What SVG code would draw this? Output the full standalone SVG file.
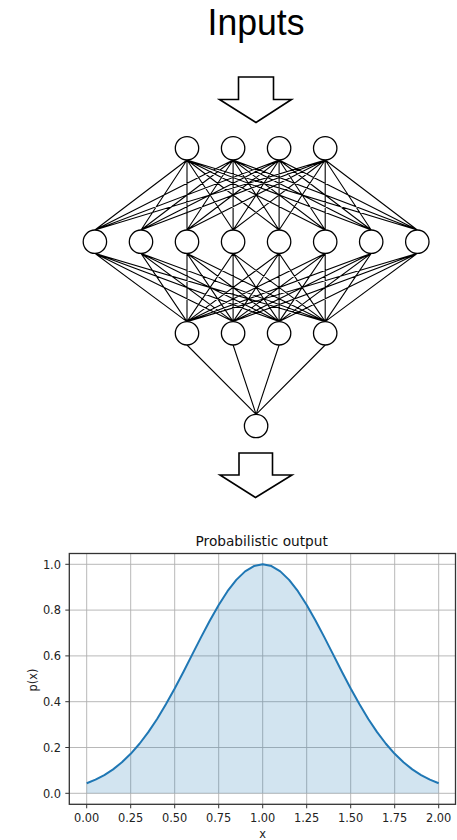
<svg xmlns="http://www.w3.org/2000/svg" width="457" height="840" viewBox="0 0 457 840">
<style>
.big{font-family:"Liberation Sans",Arial,sans-serif;font-size:37px;fill:#000}
.arrow{fill:#fff;stroke:#000;stroke-width:1.6;stroke-linejoin:miter}
.node{fill:#fff;stroke:#000;stroke-width:1.3}
.edge{fill:none;stroke:#000;stroke-width:1.1}
.grid{stroke:#b0b0b0;stroke-width:0.9}
.spine{fill:none;stroke:#333;stroke-width:1.3}
.tick{stroke:#333;stroke-width:1}
.tl{font-family:"DejaVu Sans",sans-serif;font-size:11.4px;fill:#222}
.title{font-family:"DejaVu Sans",sans-serif;font-size:13.7px;fill:#111}
</style>
<rect width="457" height="840" fill="#fff"/>
<text class="big" x="256" y="35" text-anchor="middle" textLength="97" lengthAdjust="spacingAndGlyphs">Inputs</text>
<polygon class="arrow" points="238.5,77 273.5,77 273.5,99.5 291.5,99.5 256,122.5 219.5,99.5 238.5,99.5"/>
<g id="connectors">
<path class="edge" d="M187 160L94.9 230M187 160L141 230M187 160L187 230M187 160L233.1 230M187 160L279.1 230M187 160L325.2 230M187 160L371.2 230M187 160L417.3 230
M233.1 160L94.9 230M233.1 160L141 230M233.1 160L187 230M233.1 160L233.1 230M233.1 160L279.1 230M233.1 160L325.2 230M233.1 160L371.2 230M233.1 160L417.3 230
M279.1 160L94.9 230M279.1 160L141 230M279.1 160L187 230M279.1 160L233.1 230M279.1 160L279.1 230M279.1 160L325.2 230M279.1 160L371.2 230M279.1 160L417.3 230
M325.2 160L94.9 230M325.2 160L141 230M325.2 160L187 230M325.2 160L233.1 230M325.2 160L279.1 230M325.2 160L325.2 230M325.2 160L371.2 230M325.2 160L417.3 230"/>
<path class="edge" d="M94.9 253.4L187 321.6M141 253.4L187 321.6M187 253.4L187 321.6M233.1 253.4L187 321.6M279.1 253.4L187 321.6M325.2 253.4L187 321.6M371.2 253.4L187 321.6M417.3 253.4L187 321.6
M94.9 253.4L233.1 321.6M141 253.4L233.1 321.6M187 253.4L233.1 321.6M233.1 253.4L233.1 321.6M279.1 253.4L233.1 321.6M325.2 253.4L233.1 321.6M371.2 253.4L233.1 321.6M417.3 253.4L233.1 321.6
M94.9 253.4L279.1 321.6M141 253.4L279.1 321.6M187 253.4L279.1 321.6M233.1 253.4L279.1 321.6M279.1 253.4L279.1 321.6M325.2 253.4L279.1 321.6M371.2 253.4L279.1 321.6M417.3 253.4L279.1 321.6
M94.9 253.4L325.2 321.6M141 253.4L325.2 321.6M187 253.4L325.2 321.6M233.1 253.4L325.2 321.6M279.1 253.4L325.2 321.6M325.2 253.4L325.2 321.6M371.2 253.4L325.2 321.6M417.3 253.4L325.2 321.6"/>
<path class="edge" d="M187 345L256.1 414.3M233.1 345L256.1 414.3M279.1 345L256.1 414.3M325.2 345L256.1 414.3"/>
</g>
<g id="in1"><circle class="node" cx="187" cy="148.3" r="11.7"/></g>
<g id="in2"><circle class="node" cx="233.1" cy="148.3" r="11.7"/></g>
<g id="in3"><circle class="node" cx="279.1" cy="148.3" r="11.7"/></g>
<g id="in4"><circle class="node" cx="325.2" cy="148.3" r="11.7"/></g>
<g id="h1"><circle class="node" cx="94.9" cy="241.7" r="11.7"/></g>
<g id="h2"><circle class="node" cx="141" cy="241.7" r="11.7"/></g>
<g id="h3"><circle class="node" cx="187" cy="241.7" r="11.7"/></g>
<g id="h4"><circle class="node" cx="233.1" cy="241.7" r="11.7"/></g>
<g id="h5"><circle class="node" cx="279.1" cy="241.7" r="11.7"/></g>
<g id="h6"><circle class="node" cx="325.2" cy="241.7" r="11.7"/></g>
<g id="h7"><circle class="node" cx="371.2" cy="241.7" r="11.7"/></g>
<g id="h8"><circle class="node" cx="417.3" cy="241.7" r="11.7"/></g>
<g id="g1"><circle class="node" cx="187" cy="333.3" r="11.7"/></g>
<g id="g2"><circle class="node" cx="233.1" cy="333.3" r="11.7"/></g>
<g id="g3"><circle class="node" cx="279.1" cy="333.3" r="11.7"/></g>
<g id="g4"><circle class="node" cx="325.2" cy="333.3" r="11.7"/></g>
<g id="out"><circle class="node" cx="256.1" cy="426" r="11.7"/></g>
<polygon class="arrow" points="239,453 272.5,453 272.5,475 292,475 255.5,497.5 220,475 239,475"/>
<g id="plot">
<text class="title" x="261.7" y="546" text-anchor="middle">Probabilistic output</text>
<g class="grid">
<line x1="86.7" y1="553.5" x2="86.7" y2="804.3"/>
<line x1="130.7" y1="553.5" x2="130.7" y2="804.3"/>
<line x1="174.7" y1="553.5" x2="174.7" y2="804.3"/>
<line x1="218.7" y1="553.5" x2="218.7" y2="804.3"/>
<line x1="262.7" y1="553.5" x2="262.7" y2="804.3"/>
<line x1="306.7" y1="553.5" x2="306.7" y2="804.3"/>
<line x1="350.7" y1="553.5" x2="350.7" y2="804.3"/>
<line x1="394.7" y1="553.5" x2="394.7" y2="804.3"/>
<line x1="438.7" y1="553.5" x2="438.7" y2="804.3"/>
<line x1="69.3" y1="793.3" x2="455.5" y2="793.3"/>
<line x1="69.3" y1="747.5" x2="455.5" y2="747.5"/>
<line x1="69.3" y1="701.7" x2="455.5" y2="701.7"/>
<line x1="69.3" y1="655.9" x2="455.5" y2="655.9"/>
<line x1="69.3" y1="610.1" x2="455.5" y2="610.1"/>
<line x1="69.3" y1="564.3" x2="455.5" y2="564.3"/>
</g>
<path fill="#1f77b4" fill-opacity="0.2" d="M86.7 793.3L86.7 783.24L95.5 779.66L104.3 775.08L113.1 769.35L121.9 762.31L130.7 753.82L139.5 743.77L148.3 732.15L157.1 718.96L165.9 704.32L174.7 688.46L183.5 671.68L192.3 654.4L201.1 637.13L209.9 620.44L218.7 604.93L227.5 591.21L236.3 579.85L245.1 571.35L253.9 566.08L262.7 564.3L271.5 566.08L280.3 571.35L289.1 579.85L297.9 591.21L306.7 604.93L315.5 620.44L324.3 637.13L333.1 654.4L341.9 671.68L350.7 688.46L359.5 704.32L368.3 718.96L377.1 732.15L385.9 743.77L394.7 753.82L403.5 762.31L412.3 769.35L421.1 775.08L429.9 779.66L438.7 783.24L438.7 793.3Z"/>
<polyline fill="none" stroke="#1f77b4" stroke-width="2" stroke-linejoin="round" points="86.7,783.24 95.5,779.66 104.3,775.08 113.1,769.35 121.9,762.31 130.7,753.82 139.5,743.77 148.3,732.15 157.1,718.96 165.9,704.32 174.7,688.46 183.5,671.68 192.3,654.4 201.1,637.13 209.9,620.44 218.7,604.93 227.5,591.21 236.3,579.85 245.1,571.35 253.9,566.08 262.7,564.3 271.5,566.08 280.3,571.35 289.1,579.85 297.9,591.21 306.7,604.93 315.5,620.44 324.3,637.13 333.1,654.4 341.9,671.68 350.7,688.46 359.5,704.32 368.3,718.96 377.1,732.15 385.9,743.77 394.7,753.82 403.5,762.31 412.3,769.35 421.1,775.08 429.9,779.66 438.7,783.24"/>
<rect class="spine" x="69.3" y="553.5" width="386.2" height="250.8"/>
<g class="tick">
<line x1="65.3" y1="793.3" x2="69.3" y2="793.3"/>
<line x1="65.3" y1="747.5" x2="69.3" y2="747.5"/>
<line x1="65.3" y1="701.7" x2="69.3" y2="701.7"/>
<line x1="65.3" y1="655.9" x2="69.3" y2="655.9"/>
<line x1="65.3" y1="610.1" x2="69.3" y2="610.1"/>
<line x1="65.3" y1="564.3" x2="69.3" y2="564.3"/>
<line x1="86.7" y1="804.3" x2="86.7" y2="808.3"/>
<line x1="130.7" y1="804.3" x2="130.7" y2="808.3"/>
<line x1="174.7" y1="804.3" x2="174.7" y2="808.3"/>
<line x1="218.7" y1="804.3" x2="218.7" y2="808.3"/>
<line x1="262.7" y1="804.3" x2="262.7" y2="808.3"/>
<line x1="306.7" y1="804.3" x2="306.7" y2="808.3"/>
<line x1="350.7" y1="804.3" x2="350.7" y2="808.3"/>
<line x1="394.7" y1="804.3" x2="394.7" y2="808.3"/>
<line x1="438.7" y1="804.3" x2="438.7" y2="808.3"/>
</g>
<g class="tl" text-anchor="end">
<text x="61" y="797.5">0.0</text>
<text x="61" y="751.7">0.2</text>
<text x="61" y="705.9">0.4</text>
<text x="61" y="660.1">0.6</text>
<text x="61" y="614.3">0.8</text>
<text x="61" y="568.5">1.0</text>
</g>
<g class="tl" text-anchor="middle">
<text x="86.7" y="822">0.00</text>
<text x="130.7" y="822">0.25</text>
<text x="174.7" y="822">0.50</text>
<text x="218.7" y="822">0.75</text>
<text x="262.7" y="822">1.00</text>
<text x="306.7" y="822">1.25</text>
<text x="350.7" y="822">1.50</text>
<text x="394.7" y="822">1.75</text>
<text x="438.7" y="822">2.00</text>
<text x="262.7" y="838">x</text>
<text transform="translate(36.5,680) rotate(-90)">p(x)</text>
</g>
</g>
</svg>
